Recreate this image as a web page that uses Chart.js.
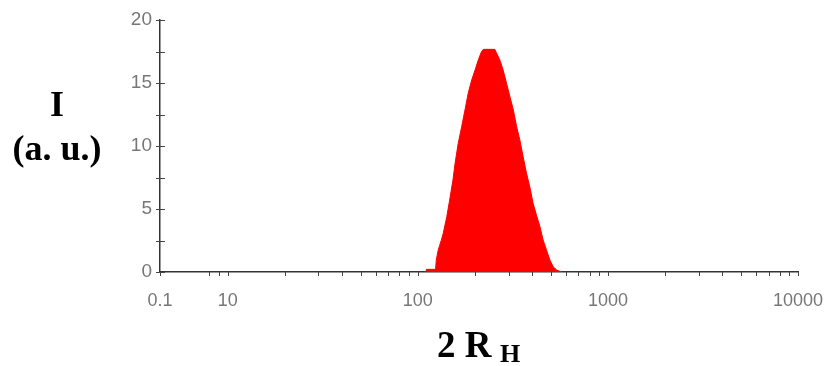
<!DOCTYPE html>
<html>
<head>
<meta charset="utf-8">
<script src="https://cdn.jsdelivr.net/npm/chart.js@4"></script>
<style>
  html, body { margin: 0; padding: 0; background: #fff; }
  #wrap { position: relative; width: 826px; height: 366px; overflow: hidden; }
  #c { position: absolute; left: 0; top: 0; }
  .ttl { position: absolute; font-family: "Liberation Serif", "Times New Roman", serif; font-weight: bold; color: #000; white-space: nowrap; }
</style>
</head>
<body>
<div id="wrap">
  <canvas id="c" width="826" height="366"></canvas>
  <div class="ttl" style="left:0;width:114px;text-align:center;top:86px;font-size:36px;line-height:36px;">I</div>
  <div class="ttl" style="left:0;width:114px;text-align:center;top:130px;font-size:36px;line-height:36px;">(a. u.)</div>
  <div class="ttl" style="left:437px;top:326px;font-size:37px;line-height:37px;">2 R</div>
  <div class="ttl" style="left:500px;top:341px;font-size:26px;line-height:26px;">H</div>
</div>
<script>
// Hydrodynamic diameter 2R_H and scattered intensity (a. u.)
const diameters = [110, 111, 124, 125, 128, 133, 136, 142, 147, 153, 157, 163, 170, 177, 184, 192,
  200, 208, 216, 221, 254, 270, 281, 293, 305, 318, 331, 344, 358, 373, 388, 404, 421, 439,
  456, 475, 495, 515, 537, 570];
const intensity = [0, 0.21, 0.21, 0.95, 1.75, 2.54, 3.07, 4.39, 5.71, 7.3, 8.63, 10.2, 11.53, 12.86, 14.18, 15.24,
  16.03, 16.83, 17.48, 17.67, 17.67, 16.83, 16.03, 14.97, 13.92, 12.86, 11.53, 10.48, 9.15, 7.83, 6.77, 5.45, 4.5, 3.6,
  2.54, 1.75, 0.95, 0.42, 0.16, 0];

// x axis (log): labelled positions and minor tick positions
const xMin = 4.4, xMax = 10000;
const xLabelValues = [4.4, 10, 100, 1000, 10000];
const xLabels = ['0.1', '10', '100', '1000', '10000'];
const xMinorTicks = [8, 9, 20, 30, 40, 50, 60, 70, 80, 90, 200, 300, 400, 500, 600, 700, 800, 900,
  2000, 3000, 4000, 5000, 6000, 7000, 8000, 9000];

// y axis: labelled and minor ticks
const yLabelValues = [0, 5, 10, 15, 20];
const yMinorTicks = [2.5, 7.5, 12.5, 17.5];

const points = diameters.map((d, i) => ({ x: d, y: intensity[i] }));

const tickColor = '#777777';
const axisColor = '#333333';

// Draws the small tick marks along both axes
const tickMarks = {
  id: 'tickMarks',
  afterDraw(chart) {
    const ctx = chart.ctx;
    const xs = chart.scales.x, ys = chart.scales.y;
    const y0 = ys.bottom, x0 = xs.left;
    ctx.save();
    ctx.strokeStyle = '#444';
    ctx.lineWidth = 1;
    ctx.beginPath();
    xLabelValues.concat(xMinorTicks).forEach(v => {
      const px = Math.round(xs.getPixelForValue(v)) + 0.5;
      ctx.moveTo(px, y0);
      ctx.lineTo(px, y0 + 4);
    });
    yLabelValues.concat(yMinorTicks).forEach(v => {
      const py = Math.round(ys.getPixelForValue(v)) + 0.5;
      ctx.moveTo(x0 - 4, py);
      ctx.lineTo(x0 + 5, py);
    });
    ctx.stroke();
    ctx.restore();
  }
};

new Chart(document.getElementById('c'), {
  type: 'scatter',
  data: {
    datasets: [{
      data: points,
      showLine: true,
      fill: 'origin',
      backgroundColor: '#ff0000',
      borderColor: '#ff0000',
      borderWidth: 1,
      pointRadius: 0,
      tension: 0
    }]
  },
  options: {
    responsive: false,
    animation: false,
    layout: { padding: { left: 110, right: 28, top: 20, bottom: 0 } },
    plugins: { legend: { display: false }, tooltip: { enabled: false } },
    scales: {
      x: {
        type: 'logarithmic',
        min: xMin,
        max: xMax,
        afterFit: s => { s.height = 94; s.paddingLeft = 0; s.paddingRight = 0; },
        afterBuildTicks: s => { s.ticks = xLabelValues.map(v => ({ value: v })); },
        grid: { display: false, drawTicks: false },
        border: { display: true, color: axisColor, width: 1.5 },
        ticks: {
          autoSkip: false,
          maxRotation: 0,
          padding: 18,
          color: tickColor,
          font: { family: '"Liberation Sans", Arial, sans-serif', size: 18 },
          callback: (v) => {
            const i = xLabelValues.indexOf(v);
            return i >= 0 ? xLabels[i] : '';
          }
        }
      },
      y: {
        min: 0,
        max: 20,
        afterFit: s => { s.width = 50; s.paddingTop = 0; s.paddingBottom = 0; },
        afterBuildTicks: s => { s.ticks = yLabelValues.map(v => ({ value: v })); },
        grid: { display: false, drawTicks: false },
        border: { display: true, color: axisColor, width: 1.5 },
        ticks: {
          padding: 8,
          color: tickColor,
          font: { family: '"Liberation Sans", Arial, sans-serif', size: 19 }
        }
      }
    }
  },
  plugins: [tickMarks]
});
</script>
</body>
</html>
